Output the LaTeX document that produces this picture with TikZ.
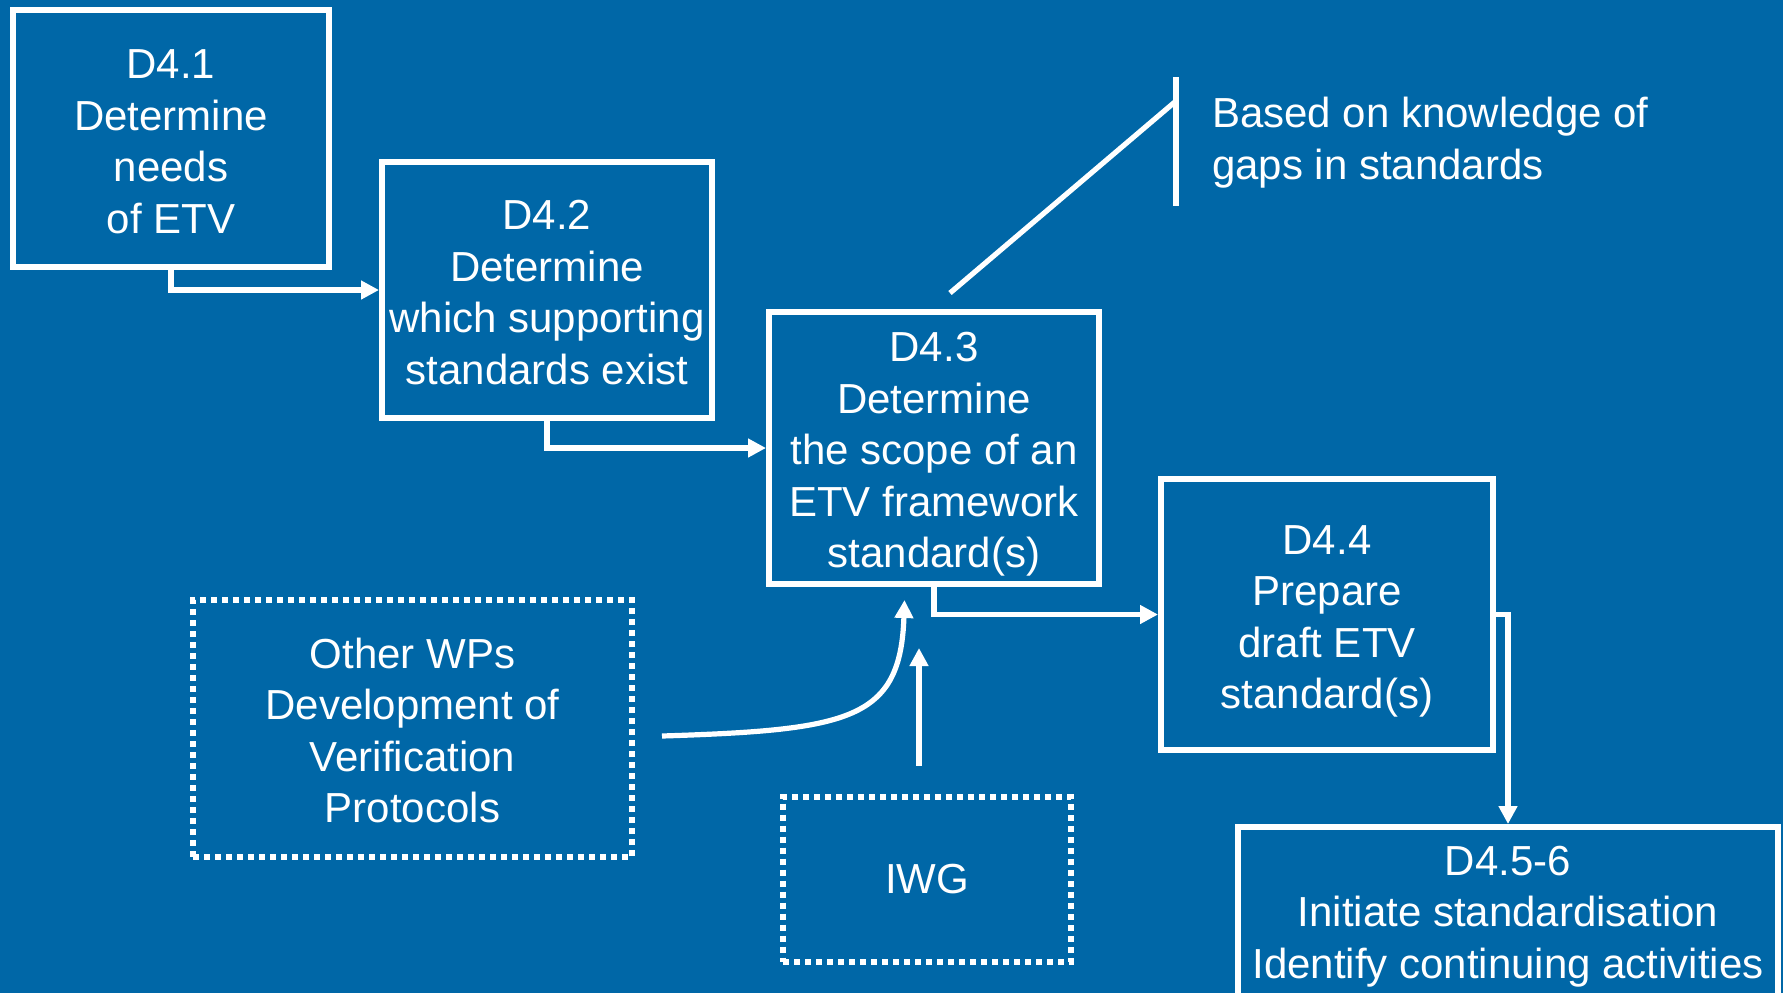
\documentclass[tikz,border=0pt]{standalone}
\usepackage{fontspec}
\setmainfont{Liberation Sans}
\usetikzlibrary{arrows.meta}
\definecolor{etvblue}{RGB}{0,103,167}
% extra room above the first line of a box
\newcommand{\toproom}[1]{\rule{0pt}{#1}}

\begin{document}
\begin{tikzpicture}[x=0.5pt,y=-0.5pt,line width=2.6pt,white,
  font=\fontsize{21pt}{25.75pt}\selectfont,
  box/.style={draw,line width=3pt,inner sep=0pt,align=center},
  dotbox/.style={box,dash pattern=on 3pt off 2.5pt},
  arr/.style={-{Triangle[length=9pt,width=9pt]}}]
\useasboundingbox (0,0) rectangle (1783,993);
\clip (0,0) rectangle (1783,993);
\fill[etvblue] (0,0) rectangle (1783,993);

\node[box,minimum width=158pt,minimum height=128.5pt] (d41) at (171,138.5) {\toproom{17.6pt}D4.1\\Determine\\needs\\of ETV};
\node[box,minimum width=165pt,minimum height=128pt] (d42) at (547,290) {\toproom{17pt}D4.2\\Determine\\which supporting\\standards exist};
\node[box,minimum width=165pt,minimum height=136pt] (d43) at (934,448) {\toproom{21.2pt}D4.3\\Determine\\the scope of an\\ETV framework\\standard(s)};
\node[box,minimum width=166pt,minimum height=135.5pt] (d44) at (1327,614.5) {\toproom{21.2pt}D4.4\\Prepare\\draft ETV\\standard(s)};
\node[box,minimum width=270pt,minimum height=86.5pt] (d456) at (1508,913.5) {\toproom{17.6pt}D4.5-6\\Initiate standardisation\\Identify continuing activities};
\node[dotbox,minimum width=219.5pt,minimum height=128.5pt] (wp) at (412.5,728.5) {\toproom{17pt}Other WPs\\Development of\\Verification\\Protocols};
\node[dotbox,minimum width=144pt,minimum height=82.5pt] (iwg) at (927,879) {IWG};
\node[anchor=west,align=left,inner sep=0pt] (gaps) at (1209.5,142.5) {Based on knowledge of\\gaps in standards};

% flow
\draw[arr] (d41.south) |- (d42.west);
\draw[arr] (d42.south) |- (d43.west);
\draw[arr] (d43.south) |- (d44.west);
\draw[arr] (d44.east) -| (d456.north);

% inputs to D4.3
\draw[arr] ([xshift=13.5pt,yshift=-3.75pt]wp.east) .. controls +(94pt,3pt) and +(-2pt,-60pt) .. ([xshift=-14.75pt,yshift=-6.5pt]d43.south);
\draw[arr] ([xshift=-4pt,yshift=14pt]iwg.north) -- ([xshift=-7.5pt,yshift=-30.5pt]d43.south);

% note
\coordinate (bartop) at (1176,77);
\coordinate (barbot) at (1176,206);
\coordinate (barmid) at (1176,101);
\draw (bartop) -- (barbot);
\draw ([xshift=8pt,yshift=8pt]d43.north) -- (barmid);
\end{tikzpicture}
\end{document}
